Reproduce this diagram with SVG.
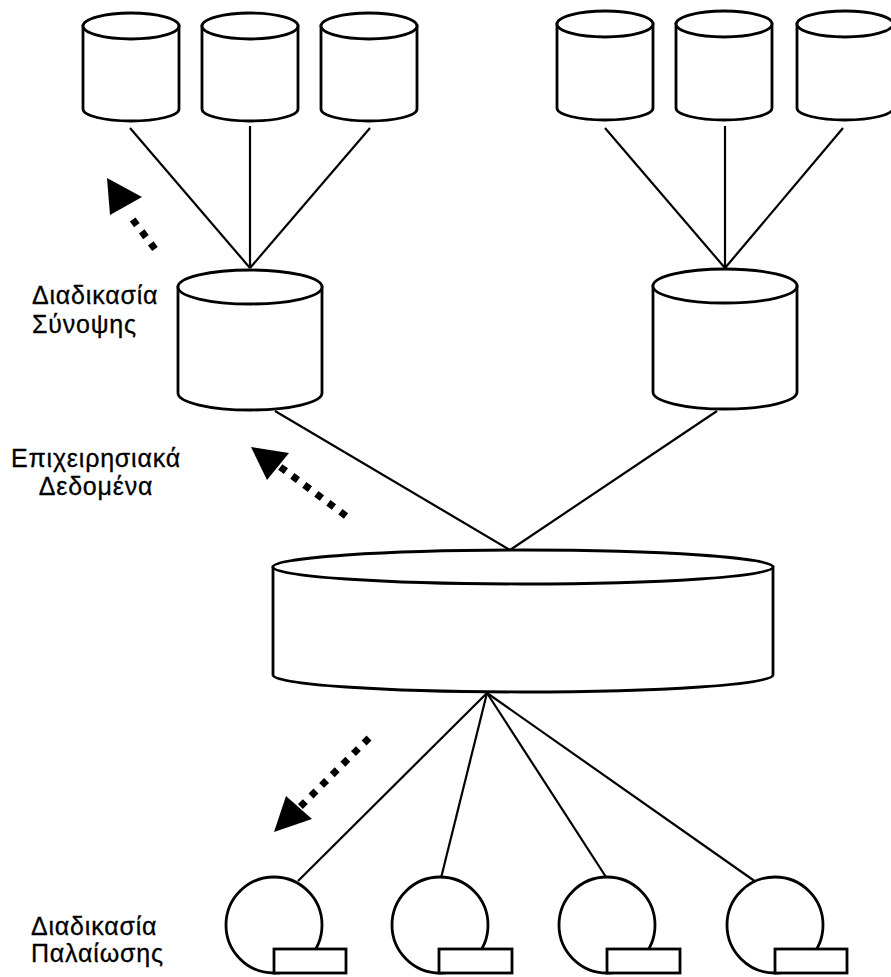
<svg xmlns="http://www.w3.org/2000/svg" width="891" height="977" viewBox="0 0 891 977">
<style>
.shape{fill:#fff;stroke:#000;stroke-width:2.8}
.line{stroke:#000;stroke-width:2.2;fill:none}
.dots{stroke:#000;stroke-width:7;stroke-dasharray:7 8;fill:none}
.head{fill:#000}
.lbl{font-family:"Liberation Sans",Arial,sans-serif;font-size:25px;letter-spacing:0.8px;fill:#000;stroke:#000;stroke-width:0.3}
</style>
<rect width="891" height="977" fill="#fff"/>
<g id="connectors">
<line class="line" x1="130" y1="128" x2="250" y2="268"/>
<line class="line" x1="250" y1="126" x2="250" y2="268"/>
<line class="line" x1="370" y1="128" x2="250" y2="268"/>
<line class="line" x1="605" y1="128" x2="725" y2="268"/>
<line class="line" x1="725" y1="126" x2="725" y2="268"/>
<line class="line" x1="843" y1="128" x2="725" y2="268"/>
<line class="line" x1="275" y1="411" x2="510" y2="550"/>
<line class="line" x1="717" y1="411" x2="510" y2="550"/>
<line class="line" x1="487" y1="693" x2="298" y2="881"/>
<line class="line" x1="487" y1="693" x2="441" y2="878"/>
<line class="line" x1="487" y1="693" x2="606" y2="877"/>
<line class="line" x1="487" y1="693" x2="756" y2="882"/>
<line class="dots" x1="155" y1="249" x2="130" y2="216"/>
<polygon class="head" points="107,178 142,197 110,215"/>
<line class="dots" x1="346" y1="516" x2="279" y2="466"/>
<polygon class="head" points="251,447 289,453 267,480"/>
<line class="dots" x1="369" y1="738" x2="299" y2="808"/>
<polygon class="head" points="274,832 286,796 312,819"/>
</g>
<g id="db1"><path class="shape" d="M83,26 L83,109 A48,12 0 0 0 179,109 L179,26 Z"/><ellipse class="shape" cx="131" cy="26" rx="48" ry="13"/></g>
<g id="db2"><path class="shape" d="M202,26 L202,109 A48,12 0 0 0 298,109 L298,26 Z"/><ellipse class="shape" cx="250" cy="26" rx="48" ry="13"/></g>
<g id="db3"><path class="shape" d="M321,26 L321,109 A48,12 0 0 0 417,109 L417,26 Z"/><ellipse class="shape" cx="369" cy="26" rx="48" ry="13"/></g>
<g id="db4"><path class="shape" d="M557,24 L557,108 A48,12 0 0 0 653,108 L653,24 Z"/><ellipse class="shape" cx="605" cy="24" rx="48" ry="13"/></g>
<g id="db5"><path class="shape" d="M676,24 L676,108 A48,12 0 0 0 772,108 L772,24 Z"/><ellipse class="shape" cx="724" cy="24" rx="48" ry="13"/></g>
<g id="db6"><path class="shape" d="M797,24 L797,108 A48,12 0 0 0 893,108 L893,24 Z"/><ellipse class="shape" cx="845" cy="24" rx="48" ry="13"/></g>
<g id="summary-left"><path class="shape" d="M178,287 L178,393 A72,17 0 0 0 322,393 L322,287 Z"/><ellipse class="shape" cx="250" cy="287" rx="72" ry="17"/></g>
<g id="summary-right"><path class="shape" d="M653,286 L653,392 A72,17 0 0 0 797,392 L797,286 Z"/><ellipse class="shape" cx="725" cy="286" rx="72" ry="17"/></g>
<g id="operational"><path class="shape" d="M273,567 L273,675 A250,17 0 0 0 773,675 L773,567 Z"/><ellipse class="shape" cx="523" cy="567" rx="250" ry="17"/></g>
<g id="tape1"><circle class="shape" cx="274" cy="925" r="48"/><rect class="shape" x="274" y="949" width="72" height="24"/></g>
<g id="tape2"><circle class="shape" cx="440" cy="925" r="48"/><rect class="shape" x="439" y="949" width="73" height="24"/></g>
<g id="tape3"><circle class="shape" cx="607" cy="925" r="48"/><rect class="shape" x="607" y="949" width="73" height="24"/></g>
<g id="tape4"><circle class="shape" cx="775" cy="925" r="48"/><rect class="shape" x="775" y="949" width="72" height="24"/></g>
<g id="label-summary"><text class="lbl" x="32" y="304">Διαδικασία</text><text class="lbl" x="32" y="333">Σύνοψης</text></g>
<g id="label-operational"><text class="lbl" x="96" y="467" text-anchor="middle">Επιχειρησιακά</text><text class="lbl" x="96" y="495" text-anchor="middle">Δεδομένα</text></g>
<g id="label-aging"><text class="lbl" x="31" y="935">Διαδικασία</text><text class="lbl" x="31" y="962">Παλαίωσης</text></g>
</svg>
